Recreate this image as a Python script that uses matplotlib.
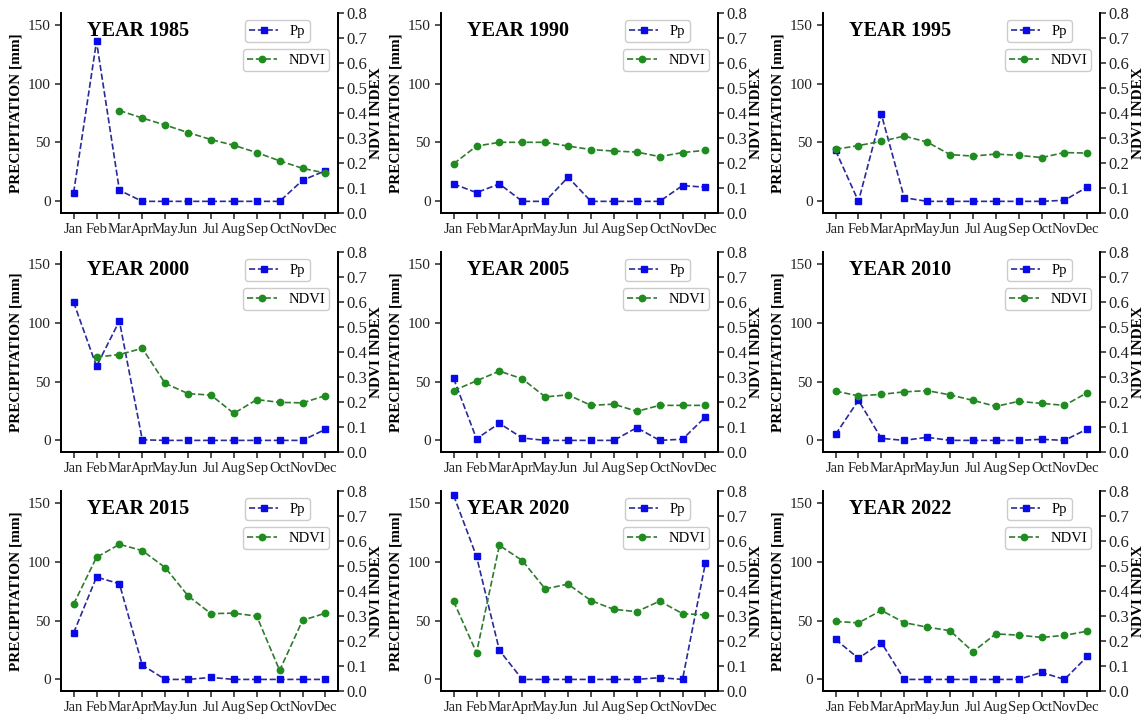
import matplotlib
matplotlib.use('Agg')
import matplotlib.pyplot as plt
import numpy as np

plt.rcParams['font.family'] = ['Liberation Serif', 'DejaVu Serif']

months = ['Jan', 'Feb', 'Mar', 'Apr', 'May', 'Jun', 'Jul', 'Aug', 'Sep', 'Oct', 'Nov', 'Dec']
nan = np.nan

# precipitation [mm] and NDVI per year
pp1985 = [7.4, 135.8, 9.4, 0, 0, 0, 0, 0, 0, 0, 17.9, 26]
ndvi1985 = [nan, nan, 0.41, 0.38, 0.352, 0.322, 0.294, 0.271, 0.242, 0.209, 0.179, 0.16]

pp1990 = [14.8, 7.4, 14.8, 0, 0, 20.5, 0, 0, 0, 0, 13.4, 12]
ndvi1990 = [0.197, 0.268, 0.283, 0.283, 0.283, 0.268, 0.254, 0.248, 0.244, 0.226, 0.242, 0.251]

pp1995 = [43.2, 0, 73.9, 3.1, 0, 0, 0, 0, 0, 0, 0.9, 12.2]
ndvi1995 = [0.255, 0.27, 0.287, 0.308, 0.284, 0.234, 0.228, 0.236, 0.231, 0.222, 0.242, 0.24]

pp2000 = [117.3, 63, 101.4, 0.5, 0, 0, 0, 0, 0, 0, 0, 9.4]
ndvi2000 = [nan, 0.38, 0.39, 0.415, 0.275, 0.234, 0.228, 0.155, 0.21, 0.199, 0.197, 0.226]

pp2005 = [52.6, 1.4, 14.5, 2, 0, 0, 0, 0, 10.8, 0, 1, 19.9]
ndvi2005 = [0.246, 0.285, 0.324, 0.293, 0.221, 0.229, 0.187, 0.192, 0.163, 0.187, 0.187, 0.187]

pp2010 = [5.1, 34, 1.7, 0, 2.6, 0, 0, 0, 0, 0.9, 0, 9.7]
ndvi2010 = [0.244, 0.225, 0.231, 0.241, 0.246, 0.229, 0.207, 0.183, 0.203, 0.195, 0.187, 0.238]

pp2015 = [39.5, 86.9, 81.3, 12.2, 0, 0, 1.7, 0, 0, 0, 0, 0]
ndvi2015 = [0.348, 0.535, 0.587, 0.562, 0.494, 0.381, 0.31, 0.312, 0.3, 0.083, 0.283, 0.312]

pp2020 = [156.3, 104.5, 24.7, 0, 0, 0, 0, 0, 0, 1.5, 0, 99]
ndvi2020 = [0.359, 0.154, 0.583, 0.522, 0.409, 0.428, 0.362, 0.327, 0.318, 0.36, 0.31, 0.305]

pp2022 = [34, 17.9, 31.3, 0, 0, 0, 0, 0, 0, 6, 0, 19.6]
ndvi2022 = [0.279, 0.273, 0.323, 0.274, 0.256, 0.242, 0.158, 0.229, 0.224, 0.215, 0.223, 0.24]

years = ['1985', '1990', '1995', '2000', '2005', '2010', '2015', '2020', '2022']
ppAll = [pp1985, pp1990, pp1995, pp2000, pp2005, pp2010, pp2015, pp2020, pp2022]
ndviAll = [ndvi1985, ndvi1990, ndvi1995, ndvi2000, ndvi2005, ndvi2010, ndvi2015, ndvi2020, ndvi2022]

fig = plt.figure(figsize=(11.47, 7.2), dpi=100)
lefts = [0.0532, 0.3845, 0.7175]
bottoms = [0.704, 0.372, 0.040]
w = 0.2415
h = 0.278

x = np.arange(12)
for i in range(9):
    ax = fig.add_axes([lefts[i % 3], bottoms[i // 3], w, h])
    ax2 = ax.twinx()
    l1, = ax.plot(x, ppAll[i], '--', color='#2a2a9a', lw=1.2, marker='s', ms=5,
                  mfc='#0a0ae6', mec='#0a0ae6', label='Pp')
    l2, = ax2.plot(x, ndviAll[i], '--', color='#2f7a2f', lw=1.2, marker='o', ms=4.6,
                   mfc='#1e8c1e', mec='#1e8c1e', label='NDVI')
    ax.set_ylim(-10, 160)
    ax2.set_ylim(0, 0.8)
    ax.set_xlim(-0.55, 11.55)
    ax.set_yticks([0, 50, 100, 150])
    ax2.set_yticks(np.arange(0, 0.81, 0.1))
    ax2.set_yticklabels(['%.1f' % v for v in np.arange(0, 0.81, 0.1)])
    ax.set_xticks(x)
    ax.set_xticklabels(months)
    for a in (ax, ax2):
        a.spines['top'].set_visible(False)
        for s in a.spines.values():
            s.set_linewidth(1.3)
    ax.tick_params(labelsize=11, width=1.1, length=4, colors='#222222')
    ax.tick_params(axis='x', labelsize=10.5, pad=3)
    ax2.tick_params(labelsize=12, width=1.1, length=4, pad=2, colors='#222222')
    ax.set_ylabel('PRECIPITATION [mm]', fontsize=11, fontweight='bold', labelpad=4)
    ax2.set_ylabel('NDVI INDEX', fontsize=11, fontweight='bold', labelpad=2)
    ax.text(0.094, 0.91, 'YEAR ' + years[i], transform=ax.transAxes, fontsize=14.5,
            fontweight='bold', va='center', ha='left')
    leg1 = ax.legend(handles=[l1], loc='upper right', bbox_to_anchor=(0.925, 1.0),
                     fontsize=10.5, handlelength=2.0, borderpad=0.3, framealpha=1)
    leg2 = ax2.legend(handles=[l2], loc='upper right', bbox_to_anchor=(0.995, 0.855),
                      fontsize=10.5, handlelength=2.0, borderpad=0.3, framealpha=1)

fig.savefig('out.png', dpi=100)
